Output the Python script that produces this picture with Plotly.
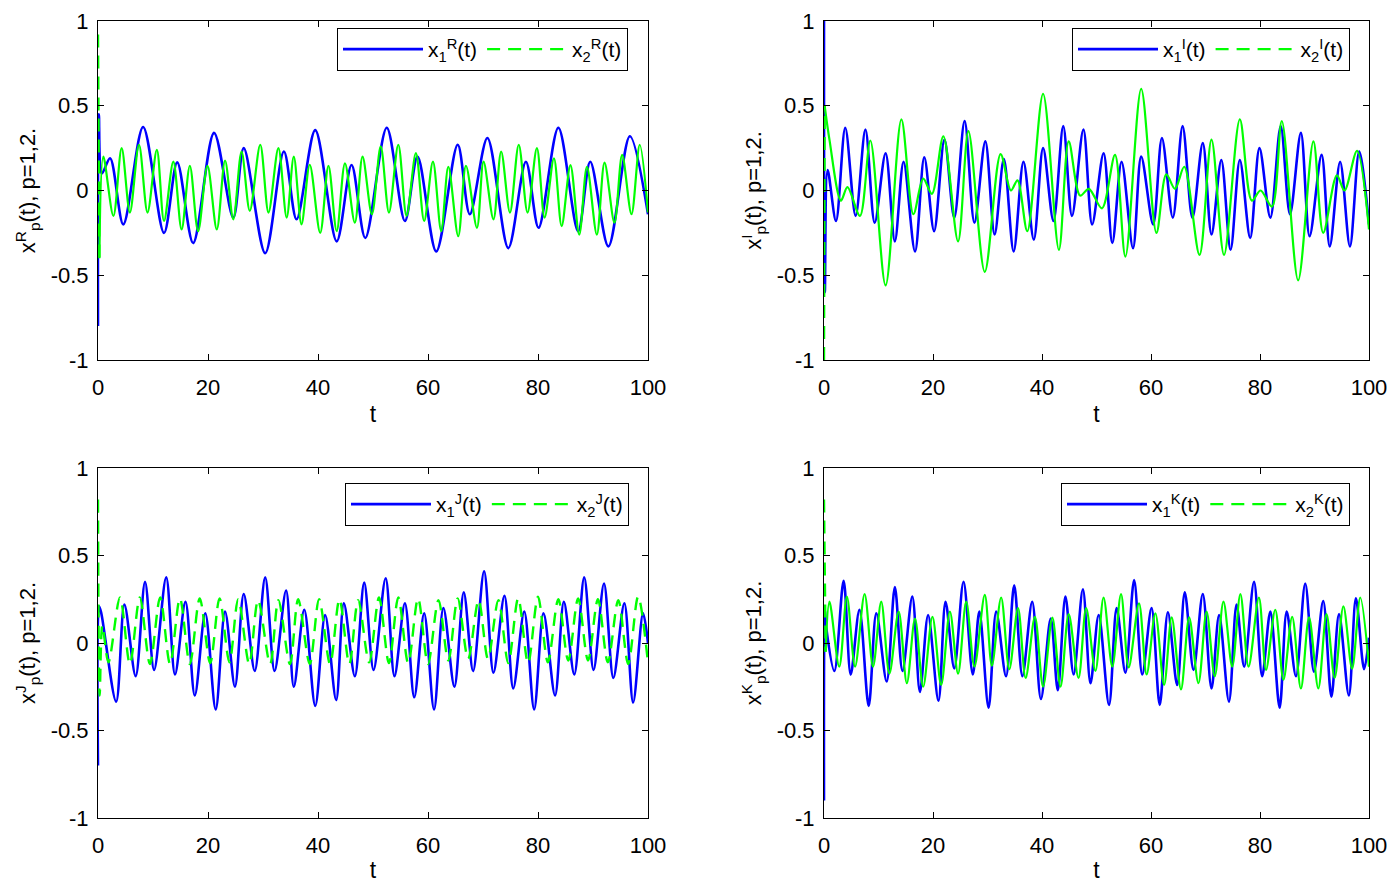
import plotly.graph_objects as go

# ---- values (turning points of each curve) ----
t_r1 = [0, 0.15, 0.7, 2.2, 4.6, 8.2, 12.0, 14.4, 17.3, 21.1, 24.6, 26.5, 30.4, 33.8, 36.1, 39.5, 43.4, 46.1,
        48.6, 52.5, 55.8, 58.1, 61.5, 65.4, 67.6, 70.8, 74.6, 77.8, 80.1, 83.7, 87.3, 89.5, 92.8, 96.7, 100]
v_r1 = [-0.8, 0.45, 0.1, 0.19, -0.2, 0.375, -0.25, 0.166, -0.31, 0.34, -0.16, 0.25, -0.37, 0.23, -0.17, 0.356,
        -0.30, 0.15, -0.28, 0.37, -0.18, 0.2, -0.36, 0.27, -0.14, 0.31, -0.34, 0.17, -0.22, 0.37, -0.24, 0.17,
        -0.33, 0.32, -0.14]

t_r2 = [0, 0.25, 0.97, 2.8, 4.3, 5.8, 7.45, 9.0, 10.7, 12.0, 13.7, 15.2, 16.7, 18.2, 19.9, 21.6, 23.1, 24.6,
        26.1, 27.6, 29.5, 31.0, 32.8, 34.3, 35.6, 37.0, 38.5, 40.4, 41.9, 43.4, 44.9, 46.7, 48.1, 49.8, 51.4,
        52.9, 54.6, 56.1, 57.8, 59.3, 60.9, 62.4, 63.7, 65.5, 66.9, 68.9, 70.1, 71.9, 73.3, 74.9, 76.5, 78.1,
        79.8, 81.2, 82.9, 84.3, 85.9, 87.5, 88.9, 90.7, 92.1, 93.9, 95.3, 97.0, 98.5, 100]
v_r2 = [0.92, -0.4, 0.2, -0.15, 0.25, -0.13, 0.27, -0.13, 0.24, -0.18, 0.17, -0.23, 0.146, -0.24, 0.146, -0.23,
        0.177, -0.17, 0.23, -0.12, 0.27, -0.13, 0.25, -0.16, 0.2, -0.2, 0.152, -0.25, 0.146, -0.24, 0.16, -0.19,
        0.2, -0.14, 0.26, -0.13, 0.27, -0.15, 0.22, -0.18, 0.17, -0.24, 0.14, -0.27, 0.146, -0.22, 0.17, -0.17,
        0.23, -0.13, 0.27, -0.13, 0.25, -0.16, 0.19, -0.21, 0.15, -0.26, 0.14, -0.26, 0.165, -0.19, 0.21, -0.14,
        0.27, -0.13]

t_i1 = [0, 0.15, 0.67, 2.2, 3.9, 5.8, 7.6, 9.3, 11.3, 13.0, 14.6, 16.7, 18.4, 20.2, 22.1, 23.9, 25.8, 27.6,
        29.6, 31.3, 33.0, 34.8, 36.6, 38.5, 40.2, 42.1, 43.9, 45.5, 47.6, 49.2, 51.3, 52.9, 54.6, 56.7, 58.2,
        60.4, 62.0, 64.0, 65.8, 67.6, 69.5, 71.1, 72.9, 74.6, 76.3, 78.2, 79.9, 81.9, 83.8, 85.5, 87.5, 89.1,
        91.3, 92.8, 94.7, 96.5, 98.2, 100]
v_i1 = [1.0, -0.6, 0.12, -0.18, 0.37, -0.15, 0.36, -0.19, 0.22, -0.30, 0.17, -0.36, 0.196, -0.24, 0.3, -0.16,
        0.41, -0.19, 0.29, -0.26, 0.185, -0.36, 0.17, -0.29, 0.25, -0.18, 0.38, -0.15, 0.36, -0.2, 0.22, -0.31,
        0.17, -0.34, 0.2, -0.2, 0.31, -0.16, 0.38, -0.16, 0.28, -0.26, 0.18, -0.35, 0.18, -0.28, 0.25, -0.16,
        0.38, -0.14, 0.34, -0.27, 0.21, -0.33, 0.17, -0.33, 0.23, -0.2]

t_i2 = [0, 0.12, 1.0, 3.1, 4.3, 6.6, 8.5, 11.3, 14.2, 16.4, 18.2, 19.8, 21.9, 24.6, 26.5, 29.5, 32.4, 34.3,
        35.5, 37.3, 40.2, 43.1, 44.9, 47.0, 48.6, 51.0, 53.4, 55.3, 58.2, 61.0, 62.8, 64.4, 66.1, 68.9, 71.1,
        73.4, 76.3, 78.5, 80.1, 82.2, 84.0, 87.0, 89.8, 91.6, 94.1, 95.5, 97.8, 100]
v_i2 = [-1.0, 0.5, 0.3, -0.06, 0.02, -0.15, 0.295, -0.56, 0.42, -0.14, 0.07, -0.02, 0.32, -0.30, 0.35, -0.48,
        0.215, 0.0, 0.06, -0.24, 0.57, -0.35, 0.29, -0.03, 0.01, -0.105, 0.21, -0.39, 0.6, -0.25, 0.095, 0.01,
        0.14, -0.38, 0.3, -0.38, 0.42, -0.06, 0.0, -0.095, 0.41, -0.53, 0.29, -0.25, 0.09, 0.0, 0.234, -0.23]

t_j1 = [0, 0.2, 0.6, 3.3, 4.8, 6.85, 8.55, 10.2, 12.4, 14.0, 15.9, 17.6, 19.5, 21.4, 23.1, 24.9, 26.5, 28.5,
        30.4, 32.1, 34.2, 35.6, 37.5, 39.5, 41.3, 43.3, 44.7, 46.7, 48.4, 50.1, 52.3, 53.9, 55.8, 57.5, 59.3,
        61.1, 62.8, 64.8, 66.5, 68.2, 70.2, 71.9, 73.9, 75.5, 77.5, 79.3, 81.0, 83.1, 84.7, 86.6, 88.4, 90.1,
        92.0, 93.7, 95.7, 97.3, 99.1, 100]
v_j1 = [-0.7, 0.21, 0.17, -0.335, 0.22, -0.19, 0.35, -0.154, 0.375, -0.18, 0.236, -0.30, 0.17, -0.38, 0.18,
        -0.25, 0.28, -0.16, 0.375, -0.16, 0.30, -0.25, 0.19, -0.36, 0.16, -0.326, 0.227, -0.19, 0.345, -0.154,
        0.37, -0.19, 0.227, -0.31, 0.17, -0.38, 0.2, -0.25, 0.29, -0.16, 0.41, -0.17, 0.27, -0.26, 0.18, -0.38,
        0.17, -0.30, 0.236, -0.18, 0.375, -0.154, 0.34, -0.2, 0.227, -0.34, 0.17, 0.0]

t_j2 = [0, 0.3, 0.8, 1.9, 4.0, 5.8, 7.6, 9.45, 11.3, 13.1, 14.9, 16.7, 18.5, 20.4, 22.1, 23.9, 25.5, 27.5,
        29.1, 31.3, 32.8, 34.9, 36.4, 38.5, 40.2, 42.2, 43.9, 45.7, 47.3, 49.3, 51.1, 52.9, 54.6, 56.4, 58.2,
        60.0, 61.9, 63.7, 65.4, 67.3, 69.2, 70.9, 72.8, 74.6, 76.4, 78.2, 80.0, 81.8, 83.7, 85.5, 87.3, 89.1,
        90.9, 92.7, 94.6, 96.4, 98.2, 100]
v_j2 = [0.82, -0.3, 0.1, -0.11, 0.26, -0.12, 0.26, -0.12, 0.26, -0.12, 0.255, -0.12, 0.255, -0.115, 0.255,
        -0.11, 0.25, -0.12, 0.245, -0.12, 0.245, -0.12, 0.25, -0.12, 0.25, -0.12, 0.25, -0.12, 0.245, -0.11,
        0.26, -0.115, 0.26, -0.115, 0.255, -0.12, 0.245, -0.1, 0.255, -0.09, 0.245, -0.09, 0.245, -0.115, 0.255,
        -0.115, 0.265, -0.11, 0.25, -0.1, 0.255, -0.1, 0.25, -0.11, 0.245, -0.12, 0.265, -0.115]

t_k1 = [0, 0.15, 0.4, 1.9, 3.6, 4.9, 6.5, 8.2, 9.6, 11.5, 13.0, 14.4, 16.2, 17.6, 19.1, 21.0, 22.3, 23.9,
        25.6, 27.3, 28.5, 30.2, 31.6, 33.4, 34.9, 36.4, 38.2, 39.8, 41.6, 42.9, 44.3, 45.8, 47.5, 48.9, 50.4,
        52.3, 53.7, 55.3, 56.9, 58.4, 60.1, 61.6, 63.1, 64.8, 66.2, 67.8, 69.5, 71.1, 72.5, 74.3, 75.7, 77.1,
        78.9, 80.4, 81.9, 83.6, 84.9, 86.6, 88.3, 89.9, 91.6, 93.1, 94.5, 96.3, 97.6, 99.1, 100]
v_k1 = [-0.9, 0.19, 0.09, -0.16, 0.356, -0.18, 0.19, -0.36, 0.17, -0.22, 0.32, -0.16, 0.265, -0.28, 0.16,
        -0.33, 0.236, -0.145, 0.35, -0.18, 0.18, -0.37, 0.18, -0.19, 0.33, -0.19, 0.236, -0.32, 0.14, -0.27,
        0.265, -0.18, 0.307, -0.23, 0.16, -0.354, 0.2, -0.17, 0.36, -0.18, 0.2, -0.354, 0.176, -0.24, 0.29,
        -0.154, 0.28, -0.26, 0.16, -0.335, 0.22, -0.135, 0.35, -0.19, 0.18, -0.37, 0.18, -0.19, 0.34, -0.164,
        0.24, -0.307, 0.165, -0.3, 0.255, -0.15, 0.03]

t_k2 = [0, 0.3, 1.0, 2.8, 4.2, 5.7, 7.45, 9.0, 10.5, 12.0, 13.7, 15.2, 16.7, 18.2, 19.9, 21.5, 23.1, 24.6,
        26.1, 27.6, 29.5, 30.8, 32.5, 34.0, 35.6, 37.0, 38.7, 40.2, 41.9, 43.4, 44.9, 46.7, 48.1, 49.8, 51.3,
        52.9, 54.5, 55.9, 57.8, 59.2, 60.8, 62.4, 63.8, 65.5, 67.0, 68.7, 70.2, 71.7, 73.3, 74.9, 76.4, 77.9,
        79.8, 81.1, 82.8, 84.3, 85.9, 87.5, 89.0, 90.7, 92.2, 93.7, 95.3, 96.9, 98.4, 100]
v_k2 = [0.82, -0.05, 0.236, -0.135, 0.265, -0.135, 0.28, -0.135, 0.236, -0.175, 0.18, -0.23, 0.14, -0.25, 0.15,
        -0.24, 0.18, -0.175, 0.236, -0.135, 0.275, -0.13, 0.26, -0.15, 0.2, -0.2, 0.15, -0.25, 0.145, -0.25,
        0.165, -0.2, 0.2, -0.16, 0.26, -0.135, 0.28, -0.14, 0.227, -0.18, 0.17, -0.24, 0.146, -0.265, 0.146,
        -0.23, 0.18, -0.19, 0.236, -0.135, 0.28, -0.135, 0.26, -0.154, 0.19, -0.21, 0.15, -0.26, 0.146, -0.26,
        0.165, -0.2, 0.21, -0.147, 0.26, -0.135]

x_ticks = [0, 20, 40, 60, 80, 100]
y_ticks = [-1, -0.5, 0, 0.5, 1]
y_ticktext = ["-1", "-0.5", "0", "0.5", "1"]

FONT = "Liberation Sans, Arial, Helvetica, sans-serif"
BLUE = "#0000ff"
GREEN = "#00ff00"
DASH = "13px,8px"

# the page body adds an 8px margin on every side; keep the figure inside the
# window so no scrollbars appear, and shift page positions by OFF
OFF = 8
W, H = 1395 - 2 * OFF, 891 - 2 * OFF
TOP = 21              # top edge of the upper plots (page px), leaves room for the "1" label
RIGHT = 1369          # right edge of the right-hand plots (page px)
ML, MR, MT, MB = 98 - OFF, W - (RIGHT - OFF), TOP - OFF, H - (818 - OFF)
PW, PH = W - ML - MR, H - MT - MB


def xdom(a, b):
    return [(a - OFF - ML) / PW, (b - OFF - ML) / PW]


def ydom(top, bottom):
    return [1 - (bottom - OFF - MT) / PH, 1 - (top - OFF - MT) / PH]


fig = go.Figure()

panels = [
    # part, blue data, green data, green fully dashed?, x pixels, y pixels, legend box right/top
    ("R", t_r1, v_r1, t_r2, v_r2, False, (98, 648), (TOP, 360), (628, 28)),
    ("I", t_i1, v_i1, t_i2, v_i2, False, (824, RIGHT), (TOP, 360), (RIGHT - 19, 28)),
    ("J", t_j1, v_j1, t_j2, v_j2, True, (98, 648), (468, 818), (629, 483)),
    ("K", t_k1, v_k1, t_k2, v_k2, False, (824, RIGHT), (468, 818), (RIGHT - 19, 483)),
]

for i, (p, tb, vb, tg, vg, dashed, xd, yd, lg) in enumerate(panels):
    n = "" if i == 0 else str(i + 1)
    xa, ya = "x" + n, "y" + n
    leg = "legend" + n

    fig.add_trace(go.Scatter(
        x=tb, y=vb, mode="lines", xaxis=xa, yaxis=ya, legend=leg,
        name="x<sub>1</sub><sup>%s</sup>(t)" % p,
        line=dict(color=BLUE, width=2.6, shape="spline", smoothing=0.9),
    ))
    if dashed:
        fig.add_trace(go.Scatter(
            x=tg, y=vg, mode="lines", xaxis=xa, yaxis=ya, legend=leg,
            name="x<sub>2</sub><sup>%s</sup>(t)" % p,
            line=dict(color=GREEN, width=2.4, dash=DASH, shape="spline", smoothing=0.9),
        ))
    else:
        # start-up jump is dashed, the oscillation reads as solid in the reference
        fig.add_trace(go.Scatter(
            x=tg[:2], y=vg[:2], mode="lines", xaxis=xa, yaxis=ya, legend=leg,
            name="x<sub>2</sub><sup>%s</sup>(t)" % p,
            line=dict(color=GREEN, width=2.4, dash=DASH),
        ))
        fig.add_trace(go.Scatter(
            x=tg[1:], y=vg[1:], mode="lines", xaxis=xa, yaxis=ya, legend=leg,
            showlegend=False,
            line=dict(color=GREEN, width=2.2, shape="spline", smoothing=0.9),
        ))

    axis_common = dict(
        showline=True, linecolor="black", linewidth=1, mirror="ticks",
        ticks="inside", ticklen=6, tickcolor="black",
        showgrid=False, zeroline=False, automargin=False,
        ticklabeloverflow="allow",
        tickfont=dict(family=FONT, size=22, color="black"),
    )
    fig.update_layout({
        "xaxis" + n: dict(
            axis_common, domain=xdom(*xd), range=[0, 100],
            tickvals=x_ticks, ticklabelstandoff=8, anchor=ya,
            title=dict(text="t", font=dict(family=FONT, size=23, color="black"), standoff=6),
        ),
        "yaxis" + n: dict(
            axis_common, domain=ydom(*yd), range=[-1, 1],
            tickvals=y_ticks, ticktext=y_ticktext, ticklabelstandoff=4, anchor=xa,
            title=dict(text="x<sup>%s</sup><sub>p</sub>(t), p=1,2." % p,
                       font=dict(family=FONT, size=22, color="black"), standoff=8),
        ),
        leg: dict(
            x=(lg[0] - OFF - ML) / PW, y=1 - (lg[1] - OFF - MT) / PH,
            xanchor="right", yanchor="top",
            orientation="h", bgcolor="white", bordercolor="black", borderwidth=1,
            font=dict(family=FONT, size=21, color="black"), itemwidth=80,
        ),
    })

fig.update_layout(
    width=W, height=H,
    margin=dict(l=ML, r=MR, t=MT, b=MB, autoexpand=False),
    paper_bgcolor="white", plot_bgcolor="white",
    font=dict(family=FONT, color="black"),
)

fig.write_html("out.html")
